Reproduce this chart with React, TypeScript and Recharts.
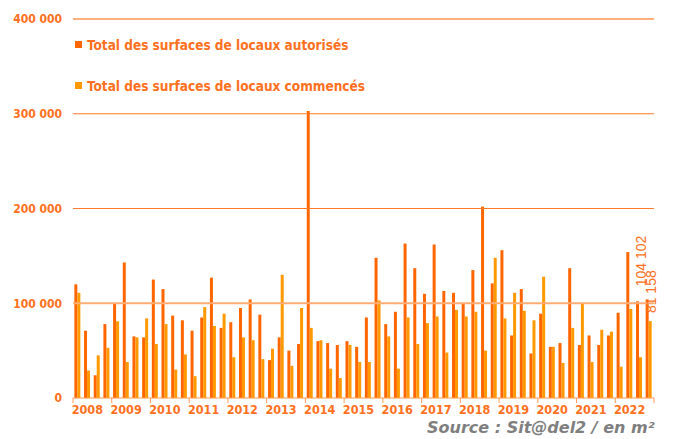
import React from 'react';
import { BarChart, Bar, XAxis, YAxis, ReferenceLine, LabelList } from 'recharts';

const years = ['2008', '2009', '2010', '2011', '2012', '2013', '2014', '2015', '2016', '2017', '2018', '2019', '2020', '2021', '2022'];
const quarters = ['T1', 'T2', 'T3', 'T4'];

const autorises = [
  120000, 71000, 24000, 78000,
  100000, 143000, 65000, 64000,
  125000, 115000, 87000, 82000,
  71000, 85000, 127000, 74000,
  80000, 95000, 104000, 88000,
  40000, 64000, 50000, 57000,
  303000, 60000, 58000, 56000,
  60000, 54000, 85000, 148000,
  78000, 91000, 163000, 137000,
  110000, 162000, 113000, 111000,
  100000, 135000, 202000, 121000,
  156000, 66000, 115000, 47000,
  89000, 54000, 58000, 137000,
  56000, 66000, 56000, 66000,
  90000, 154000, 102000, 104102,
];

const commences = [
  111000, 29000, 45000, 53000,
  81000, 38000, 64000, 84000,
  57000, 78000, 30000, 46000,
  23000, 96000, 76000, 89000,
  43000, 64000, 61000, 41000,
  52000, 130000, 34000, 95000,
  74000, 61000, 31000, 21000,
  56000, 38000, 38000, 103000,
  65000, 31000, 85000, 57000,
  79000, 86000, 48000, 93000,
  86000, 91000, 50000, 148000,
  84000, 111000, 92000, 82000,
  128000, 54000, 37000, 74000,
  100000, 38000, 72000, 70000,
  33000, 94000, 43000, 81158,
];

const yTicks = [0, 100000, 200000, 300000, 400000];

const seriesNames = ['Total des surfaces de locaux autorisés', 'Total des surfaces de locaux commencés'];
const sourceText = 'Source : Sit@del2 / en m²';

const data = autorises.map((v, i) => ({
  periode: `${years[Math.floor(i / 4)]} ${quarters[i % 4]}`,
  autorises: v,
  commences: commences[i],
}));

const W = 678;
const H = 439;
const XAXIS_H = 30;
const MARGIN = { top: 19, right: 24, bottom: 41 - XAXIS_H, left: 0 };
const YAXIS_W = 73;
const PLOT_W = W - MARGIN.left - MARGIN.right - YAXIS_W;

const DARK = '#FF6600';
const LIGHT = '#FF9900';
const TEXT = '#FF7020';
const FONT = '"DejaVu Sans Condensed", "DejaVu Sans", sans-serif';

const fmt = (v: number) => String(Math.round(v)).replace(/\B(?=(\d{3})+(?!\d))/g, ' ');

const XTick = (props: any) => {
  const { x, y, payload } = props;
  const i = props.index ?? payload.index;
  const bw = PLOT_W / data.length;
  const els: any[] = [];
  if (i % 4 === 0) {
    els.push(<line key="l" x1={x - bw / 2} x2={x - bw / 2} y1={y} y2={y + 5} stroke="#FF9A55" />);
  }
  if (i === data.length - 1) {
    els.push(<line key="r" x1={x + bw / 2} x2={x + bw / 2} y1={y} y2={y + 5} stroke="#FF9A55" />);
  }
  if (i % 4 === 2) {
    els.push(
      <text key="t" x={x - bw / 2 - 5} y={y + 16} textAnchor="middle" fill={TEXT} fontSize={12.5} fontWeight="bold" fontFamily={FONT}>
        {years[Math.floor(i / 4)]}
      </text>
    );
  }
  return <g>{els}</g>;
};

const lastLabel = (dx: number, gap: number) => (props: any) => {
  const { x, y, width, value, index } = props;
  if (index !== data.length - 1) return null;
  const cx = Number(x) + Number(width) / 2 + dx;
  const cy = Number(y) - gap;
  return (
    <text x={cx} y={cy} transform={`rotate(-90 ${cx} ${cy})`} textAnchor="start" fill={TEXT} fontSize={14} fontFamily='"Liberation Sans", Arial, sans-serif'>
      {fmt(value)}
    </text>
  );
};

export default function App() {
  return (
    <div style={{ position: 'absolute', left: 0, top: 0, width: W, height: H, background: '#fff', overflow: 'hidden' }}>
      <BarChart width={W} height={H} data={data} margin={MARGIN} barGap={0} barCategoryGap="14%">
        <XAxis
          dataKey="periode"
          height={XAXIS_H}
          interval={0}
          tick={XTick}
          tickLine={false}
          tickSize={0}
          tickMargin={0}
          axisLine={{ stroke: '#FF9A55' }}
        />
        <YAxis
          width={YAXIS_W}
          domain={[0, 400000]}
          ticks={yTicks}
          tickFormatter={fmt}
          axisLine={false}
          tickLine={false}
          tickSize={0}
          tickMargin={11}
          tick={{ fill: TEXT, fontSize: 12, fontWeight: 'bold', fontFamily: FONT }}
        />
        <ReferenceLine y={200000} stroke="#FF7A2A" strokeWidth={1} />
        <ReferenceLine y={300000} stroke="#FF7A2A" strokeWidth={1} />
        <ReferenceLine y={400000} stroke="#FFB07A" strokeWidth={2} />
        <Bar dataKey="autorises" name={seriesNames[0]} fill={DARK} isAnimationActive={false}>
          <LabelList dataKey="autorises" content={lastLabel(-1.5, 13)} />
        </Bar>
        <Bar dataKey="commences" name={seriesNames[1]} fill={LIGHT} isAnimationActive={false}>
          <LabelList dataKey="commences" content={lastLabel(5.5, 8)} />
        </Bar>
        <ReferenceLine y={100000} stroke="#FFAD75" strokeWidth={2} />
      </BarChart>
      <svg width={W} height={H} style={{ position: 'absolute', left: 0, top: 0, pointerEvents: 'none' }}>
        <rect x={75} y={41} width={7} height={7} fill={DARK} />
        <text x={87} y={50} fill={TEXT} fontSize={13.5} fontWeight="bold" fontFamily={FONT}>{seriesNames[0]}</text>
        <rect x={75} y={82} width={7} height={7} fill={LIGHT} />
        <text x={87} y={91} fill={TEXT} fontSize={13.5} fontWeight="bold" fontFamily={FONT}>{seriesNames[1]}</text>
        <text x={427} y={433} fill="#7F7F7F" fontSize={16} fontWeight="bold" fontStyle="italic" fontFamily='"DejaVu Sans", sans-serif'>{sourceText}</text>
      </svg>
    </div>
  );
}
